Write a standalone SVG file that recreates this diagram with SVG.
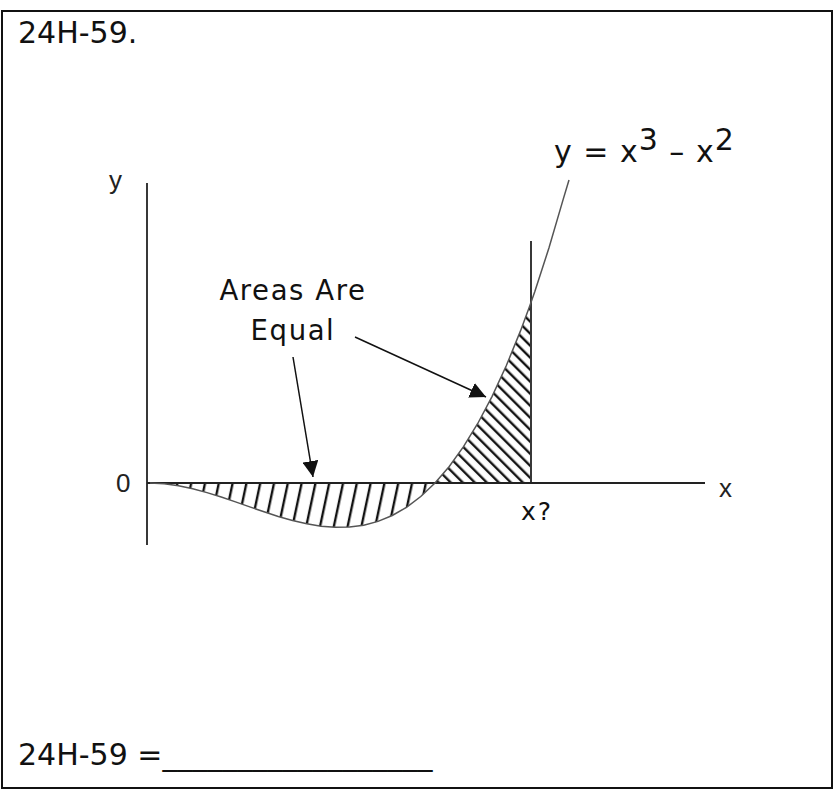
<svg xmlns="http://www.w3.org/2000/svg" width="834" height="794" viewBox="0 0 834 794">
<style>
.v{font-family:"DejaVu Sans","Verdana",sans-serif;fill:#111}
.a{font-family:"Liberation Sans",Arial,sans-serif;fill:#222}
.ax{stroke:#222;stroke-width:1.8;fill:none}
.cur{stroke:#555;stroke-width:1.5;fill:none}
.h{stroke:#111;stroke-width:2.4}
.ar{stroke:#111;stroke-width:1.5;fill:none}
</style>
<defs>
<pattern id="hn" width="13.5" height="20" patternUnits="userSpaceOnUse" patternTransform="rotate(12)">
<line x1="4" y1="-5" x2="4" y2="25" class="h"/>
</pattern>
<pattern id="hp" width="8.5" height="20" patternUnits="userSpaceOnUse" patternTransform="rotate(-45)">
<line x1="3" y1="-5" x2="3" y2="25" class="h"/>
</pattern>
<marker id="ah" viewBox="0 0 16 16" refX="16" refY="8" markerWidth="16" markerHeight="16" markerUnits="userSpaceOnUse" orient="auto">
<path d="M0,0 L16,8 L0,16 z" fill="#111"/>
</marker>
</defs>
<rect x="2" y="11" width="830" height="777" fill="#fff" stroke="#111" stroke-width="2"/>
<text class="v" x="18" y="43" font-size="30">24H-59.</text>
<g id="hatch">
<path fill="url(#hn)" d="M164,483.7 L178.5,485.7 L192.75,488.74 L207,492.6 L221.25,497.06 L235.5,501.9 L249.75,506.89 L264,511.8 L278.25,516.41 L292.5,520.5 L306.75,523.84 L321,526.2 L335.25,527.36 L349.5,527.1 L363.75,525.19 L378,521.4 L392.25,515.51 L406.5,507.3 L420.75,496.54 L435,483 Z"/>
<path fill="url(#hp)" d="M435,483 L449.25,466.46 L463.5,446.7 L477.75,423.49 L492,396.6 L506.25,365.81 L520.5,330.9 L530,305.2 L530,483 Z"/>
</g>
<g id="axes">
<line class="ax" x1="147" y1="183" x2="147" y2="545"/>
<line class="ax" x1="147" y1="483" x2="705" y2="483"/>
<line class="ax" x1="531" y1="241" x2="531" y2="483"/>
<text class="a" x="109" y="189" font-size="26">y</text>
<text class="a" x="116" y="492" font-size="26">0</text>
<text class="a" x="719" y="497" font-size="26">x</text>
<text class="v" x="521" y="520" font-size="25" letter-spacing="2">x?</text>
</g>
<g id="curve">
<polyline class="cur" points="150,483 164.25,483.71 178.5,485.7 192.75,488.74 207,492.6 221.25,497.06 235.5,501.9 249.75,506.89 264,511.8 278.25,516.41 292.5,520.5 306.75,523.84 321,526.2 335.25,527.36 349.5,527.1 363.75,525.19 378,521.4 392.25,515.51 406.5,507.3 420.75,496.54 435,483 449.25,466.46 463.5,446.7 477.75,423.49 492,396.6 506.25,365.81 520.5,330.9 530,305.2 534.75,291.64 549,247.8 563.25,199.16 569,180"/>
<text class="v" x="554" y="162" font-size="30" letter-spacing="1">y = x<tspan dy="-12">3</tspan><tspan dy="12"> – x</tspan><tspan dy="-12">2</tspan></text>
</g>
<g id="label">
<text class="v" x="293" y="300" font-size="27.5" letter-spacing="1.6" text-anchor="middle">Areas Are</text>
<text class="v" x="293" y="340" font-size="27.5" letter-spacing="1.6" text-anchor="middle">Equal</text>
</g>
<g id="connectors">
<line class="ar" x1="293" y1="357" x2="313" y2="477" marker-end="url(#ah)"/>
<line class="ar" x1="355" y1="337" x2="486" y2="397" marker-end="url(#ah)"/>
</g>
<text class="v" x="18" y="765" font-size="30">24H-59 =__________________</text>
</svg>
